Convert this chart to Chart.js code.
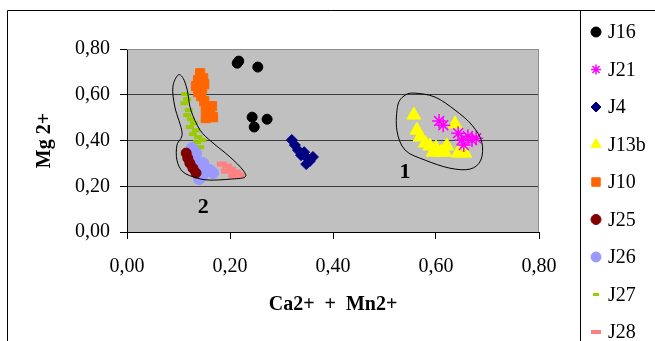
<!DOCTYPE html>
<html>
<head>
<meta charset="utf-8">
<script src="https://cdn.jsdelivr.net/npm/chart.js@4.4.1/dist/chart.umd.min.js"></script>
<style>
  body { margin: 0; background: #fff; }
  canvas { display: block; }
</style>
</head>
<body>
<canvas id="mgChart" width="655" height="341"></canvas>
<script>
// samples: [Ca2+ + Mn2+, Mg 2+]
const j16 = [[0.214, 0.738], [0.217, 0.747], [0.254, 0.721], [0.243, 0.502], [0.272, 0.493], [0.247, 0.459]];
const j21 = [[0.606, 0.485], [0.614, 0.467], [0.643, 0.432], [0.650, 0.402], [0.662, 0.419], [0.670, 0.402], [0.654, 0.380], [0.678, 0.410]];
const j4 = [[0.320, 0.402], [0.326, 0.380], [0.332, 0.358], [0.338, 0.336], [0.344, 0.349], [0.350, 0.323], [0.355, 0.310], [0.361, 0.328], [0.348, 0.297]];
const j13b = [[0.557, 0.511], [0.563, 0.445], [0.569, 0.415], [0.579, 0.389], [0.588, 0.376], [0.600, 0.367], [0.610, 0.349], [0.621, 0.376], [0.637, 0.472], [0.643, 0.345], [0.656, 0.345], [0.594, 0.349], [0.617, 0.349]];
const j10 = [[0.142, 0.694], [0.148, 0.672], [0.138, 0.664], [0.150, 0.646], [0.134, 0.638], [0.146, 0.629], [0.138, 0.611], [0.144, 0.594], [0.150, 0.572], [0.153, 0.541], [0.165, 0.550], [0.161, 0.520], [0.153, 0.498], [0.167, 0.502]];
const j25 = [[0.115, 0.345], [0.118, 0.323], [0.122, 0.301], [0.128, 0.279], [0.134, 0.258]];
const j26 = [[0.126, 0.367], [0.122, 0.341], [0.134, 0.345], [0.130, 0.323], [0.138, 0.310], [0.134, 0.288], [0.142, 0.279], [0.148, 0.301], [0.151, 0.271], [0.161, 0.271], [0.167, 0.258], [0.146, 0.245], [0.140, 0.231]];
const j27 = [[0.113, 0.603], [0.117, 0.581], [0.111, 0.563], [0.120, 0.533], [0.117, 0.511], [0.124, 0.493], [0.130, 0.476], [0.122, 0.459], [0.134, 0.445], [0.128, 0.428], [0.138, 0.415], [0.146, 0.402], [0.136, 0.393], [0.142, 0.371]];
const j28 = [[0.184, 0.297], [0.194, 0.288], [0.202, 0.275], [0.212, 0.262], [0.219, 0.249], [0.192, 0.266], [0.206, 0.245]];

// group outlines and their numbers
const group1 = [[0.559, 0.607], [0.598, 0.590], [0.637, 0.533], [0.670, 0.467], [0.689, 0.393], [0.687, 0.314], [0.666, 0.275], [0.627, 0.279], [0.579, 0.314], [0.540, 0.358], [0.524, 0.445], [0.526, 0.555], [0.540, 0.598]];
const group2 = [[0.099, 0.686], [0.089, 0.633], [0.093, 0.546], [0.107, 0.432], [0.097, 0.380], [0.097, 0.314], [0.109, 0.262], [0.136, 0.236], [0.161, 0.227], [0.200, 0.231], [0.229, 0.240], [0.225, 0.271], [0.200, 0.328], [0.165, 0.393], [0.142, 0.445], [0.124, 0.533], [0.117, 0.620], [0.109, 0.672]];
const groupLabels = [["1", 0.540, 0.262], ["2", 0.148, 0.109]];

const axisTicks = [0, 0.2, 0.4, 0.6, 0.8];

const serif = "'Liberation Serif', 'Times New Roman', serif";

function toPoints(arr) {
  return arr.map((p) => ({ x: p[0], y: p[1] }));
}

const datasets = [
  { label: "J16", data: toPoints(j16), pointStyle: "circle", pointRadius: 5, backgroundColor: "#000000", borderColor: "#000000", borderWidth: 1, legendRadius: 5 },
  { label: "J21", data: toPoints(j21), pointStyle: "star", pointRadius: 7, backgroundColor: "#ff00ff", borderColor: "#ff00ff", borderWidth: 1.5, legendRadius: 5 },
  { label: "J4", data: toPoints(j4), pointStyle: "rectRot", pointRadius: 5.5, backgroundColor: "#000080", borderColor: "#000080", borderWidth: 1, legendRadius: 5 },
  { label: "J13b", data: toPoints(j13b), pointStyle: "triangle", pointRadius: 8, backgroundColor: "#ffff00", borderColor: "#ffff00", borderWidth: 1, legendRadius: 6 },
  { label: "J10", data: toPoints(j10), pointStyle: "rect", pointRadius: 6.5, backgroundColor: "#ff6600", borderColor: "#ff6600", borderWidth: 1, legendRadius: 6 },
  { label: "J25", data: toPoints(j25), pointStyle: "circle", pointRadius: 5, backgroundColor: "#800000", borderColor: "#800000", borderWidth: 1, legendRadius: 5 },
  { label: "J26", data: toPoints(j26), pointStyle: "circle", pointRadius: 5.5, backgroundColor: "#9999ff", borderColor: "#9999ff", borderWidth: 1, legendRadius: 5 },
  { label: "J27", data: toPoints(j27), pointStyle: "line", pointRadius: 4, backgroundColor: "#99cc00", borderColor: "#99cc00", borderWidth: 4, legendRadius: 3 },
  { label: "J28", data: toPoints(j28), pointStyle: "line", pointRadius: 5, backgroundColor: "#ff8080", borderColor: "#ff8080", borderWidth: 5, legendRadius: 5 },
];

function fmt(v) {
  return v.toFixed(2).replace(".", ",");
}

// smooth closed curve through the outline points
function drawLoop(ctx, pts) {
  const n = pts.length;
  ctx.beginPath();
  ctx.moveTo(pts[0].x, pts[0].y);
  for (let i = 0; i < n; i++) {
    const p0 = pts[(i - 1 + n) % n];
    const p1 = pts[i];
    const p2 = pts[(i + 1) % n];
    const p3 = pts[(i + 2) % n];
    ctx.bezierCurveTo(
      p1.x + (p2.x - p0.x) / 6, p1.y + (p2.y - p0.y) / 6,
      p2.x - (p3.x - p1.x) / 6, p2.y - (p3.y - p1.y) / 6,
      p2.x, p2.y
    );
  }
  ctx.closePath();
  ctx.stroke();
}

const plotBackground = {
  id: "plotBackground",
  beforeDraw(chart) {
    const { ctx, chartArea: a } = chart;
    ctx.save();
    ctx.fillStyle = "#c0c0c0";
    ctx.fillRect(a.left, a.top, a.right - a.left, a.bottom - a.top);
    ctx.restore();
  },
};

const extras = {
  id: "extras",
  afterDraw(chart) {
    const { ctx, chartArea: a } = chart;
    const xs = chart.scales.x;
    const ys = chart.scales.y;
    ctx.save();

    // plot frame (top / right)
    ctx.strokeStyle = "#8c8c8c";
    ctx.lineWidth = 1;
    ctx.beginPath();
    ctx.moveTo(a.left, a.top + 0.5);
    ctx.lineTo(a.right - 0.5, a.top + 0.5);
    ctx.lineTo(a.right - 0.5, a.bottom);
    ctx.stroke();

    // outlines
    ctx.strokeStyle = "#000";
    ctx.lineWidth = 1;
    [group1, group2].forEach((g) => {
      drawLoop(ctx, g.map((p) => ({ x: xs.getPixelForValue(p[0]), y: ys.getPixelForValue(p[1]) })));
    });

    ctx.fillStyle = "#000";
    ctx.font = "bold 22px " + serif;
    ctx.textAlign = "center";
    ctx.textBaseline = "middle";
    groupLabels.forEach((l) => {
      ctx.fillText(l[0], xs.getPixelForValue(l[1]), ys.getPixelForValue(l[2]));
    });

    // outer frame and legend box
    ctx.strokeStyle = "#000";
    ctx.beginPath();
    ctx.moveTo(7.5, 341);
    ctx.lineTo(7.5, 10.5);
    ctx.lineTo(655, 10.5);
    ctx.moveTo(580.5, 10.5);
    ctx.lineTo(580.5, 341);
    ctx.stroke();

    // legend
    ctx.font = "20px " + serif;
    ctx.textAlign = "left";
    chart.data.datasets.forEach((ds, i) => {
      const y = 32 + i * 37.5;
      ctx.fillStyle = ds.backgroundColor;
      ctx.strokeStyle = ds.borderColor;
      ctx.lineWidth = ds.pointStyle === "line" ? (ds.label === "J27" ? 3 : 4) : ds.borderWidth;
      Chart.helpers.drawPoint(ctx, { pointStyle: ds.pointStyle, radius: ds.legendRadius, rotation: 0, borderWidth: ctx.lineWidth }, 596, y);
      ctx.fillStyle = "#000";
      ctx.fillText(ds.label, 608, y + 1);
    });
    ctx.restore();
  },
};

new Chart(document.getElementById("mgChart"), {
  type: "scatter",
  data: { datasets: datasets },
  options: {
    responsive: false,
    animation: false,
    devicePixelRatio: 1,
    layout: { padding: { top: 49, right: 116, left: 0, bottom: 0 } },
    plugins: { legend: { display: false }, tooltip: { enabled: false } },
    scales: {
      x: {
        type: "linear",
        min: 0,
        max: 0.8,
        afterFit: (s) => { s.height = 109; },
        afterBuildTicks: (s) => { s.ticks = axisTicks.map((v) => ({ value: v })); },
        grid: { drawOnChartArea: false, tickLength: 7, color: "#000", tickColor: "#000" },
        border: { color: "#000", width: 1 },
        ticks: { padding: 16, color: "#000", font: { family: serif, size: 20 }, callback: (v) => fmt(v), maxRotation: 0 },
        title: { display: true, text: "Ca2+  +  Mn2+", color: "#000", font: { family: serif, size: 20, weight: "bold" }, padding: { top: 0, bottom: 24 } },
      },
      y: {
        type: "linear",
        min: 0,
        max: 0.8,
        afterFit: (s) => { s.width = 127; },
        afterBuildTicks: (s) => { s.ticks = axisTicks.map((v) => ({ value: v })); },
        grid: {
          tickLength: 7,
          tickColor: "#000",
          color: (c) => (c.tick && c.tick.value === 0.8 ? "#8c8c8c" : "#3c3c3c"),
        },
        border: { color: "#000", width: 1 },
        ticks: { padding: 10, color: "#000", font: { family: serif, size: 20 }, callback: (v) => fmt(v) },
        title: { display: true, text: "Mg 2+", color: "#000", font: { family: serif, size: 20, weight: "bold" }, padding: { top: 33, bottom: 0 } },
      },
    },
  },
  plugins: [plotBackground, extras],
});
</script>
</body>
</html>
